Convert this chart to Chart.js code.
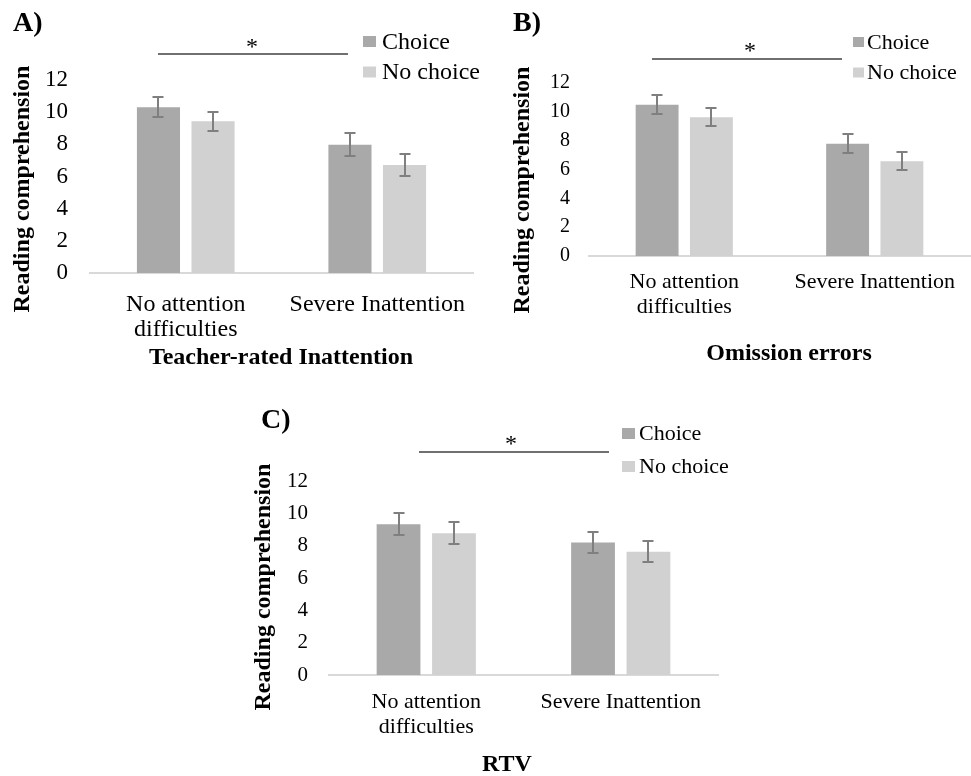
<!DOCTYPE html>
<html>
<head>
<meta charset="utf-8">
<script src="https://cdn.jsdelivr.net/npm/chart.js@4.4.1/dist/chart.umd.min.js"></script>
<style>
  body { margin: 0; background: #fff; }
  #wrap { position: relative; width: 971px; height: 776px; }
  canvas { position: absolute; }
</style>
</head>
<body>
<div id="wrap">
  <canvas id="chartA" width="490" height="380" style="left:0;top:0"></canvas>
  <canvas id="chartB" width="481" height="380" style="left:490px;top:0"></canvas>
  <canvas id="chartC" width="500" height="386" style="left:240px;top:390px"></canvas>
</div>
<script>
const FONT = "'Liberation Serif', 'Times New Roman', serif";

// shared across the three panels
const categories = [['No attention', 'difficulties'], 'Severe Inattention'];
const seriesNames = ['Choice', 'No choice'];
const seriesColors = ['#a9a9a9', '#d0d1d0'];
const yTickValues = [0, 2, 4, 6, 8, 10, 12];

// A) Teacher-rated Inattention
const choiceA = [10.3, 7.98];
const choiceErrA = [0.62, 0.7];
const noChoiceA = [9.43, 6.72];
const noChoiceErrA = [0.61, 0.66];

// B) Omission errors
const choiceB = [10.49, 7.78];
const choiceErrB = [0.65, 0.66];
const noChoiceB = [9.63, 6.58];
const noChoiceErrB = [0.63, 0.62];

// C) RTV
const choiceC = [9.33, 8.19];
const choiceErrC = [0.67, 0.67];
const noChoiceC = [8.77, 7.62];
const noChoiceErrC = [0.68, 0.65];

// error bars, legend, significance line, titles
const panelDecor = {
  id: 'panelDecor',
  afterDatasetsDraw(chart) {
    const ctx = chart.ctx;
    const y = chart.scales.y;
    ctx.save();
    ctx.strokeStyle = '#7f7f7f';
    ctx.lineWidth = 2;
    chart.data.datasets.forEach((ds, i) => {
      chart.getDatasetMeta(i).data.forEach((bar, j) => {
        const top = Math.round(y.getPixelForValue(ds.data[j] + ds.err[j]));
        const bot = Math.round(y.getPixelForValue(ds.data[j] - ds.err[j]));
        const x = Math.round(bar.x);
        ctx.beginPath();
        ctx.moveTo(x, top); ctx.lineTo(x, bot);
        ctx.moveTo(x - 5.5, top); ctx.lineTo(x + 5.5, top);
        ctx.moveTo(x - 5.5, bot); ctx.lineTo(x + 5.5, bot);
        ctx.stroke();
      });
    });
    ctx.restore();
  },
  afterDraw(chart, args, o) {
    const ctx = chart.ctx;
    ctx.save();
    ctx.fillStyle = '#000';
    ctx.textBaseline = 'middle';
    ctx.textAlign = 'left';
    ctx.font = `bold 28px ${FONT}`;
    ctx.fillText(o.letter, o.letterX, o.letterY);

    ctx.font = `${o.legendSize}px ${FONT}`;
    chart.data.datasets.forEach((ds, i) => {
      const cy = o.legendY[i];
      ctx.fillStyle = ds.backgroundColor;
      ctx.fillRect(o.legendX, cy - o.box[1] / 2, o.box[0], o.box[1]);
      ctx.fillStyle = '#000';
      ctx.fillText(ds.label, o.legendTextX, cy + 1);
    });

    ctx.strokeStyle = '#404040';
    ctx.lineWidth = 1.5;
    ctx.beginPath();
    ctx.moveTo(o.sig[0], o.sig[2]);
    ctx.lineTo(o.sig[1], o.sig[2]);
    ctx.stroke();
    ctx.textAlign = 'center';
    ctx.font = `24px ${FONT}`;
    ctx.fillText('*', o.star[0], o.star[1]);

    ctx.font = `bold 24px ${FONT}`;
    ctx.fillText(o.xTitle, o.xTitleX, o.xTitleY);
    ctx.translate(o.yTitleX, o.yTitleY);
    ctx.rotate(-Math.PI / 2);
    ctx.fillText('Reading comprehension', 0, 0);
    ctx.restore();
  }
};

function makePanel(id, choice, choiceErr, noChoice, noChoiceErr, p) {
  return new Chart(document.getElementById(id), {
    type: 'bar',
    data: {
      labels: categories,
      datasets: [
        { label: seriesNames[0], data: choice, err: choiceErr, backgroundColor: seriesColors[0] },
        { label: seriesNames[1], data: noChoice, err: noChoiceErr, backgroundColor: seriesColors[1] }
      ]
    },
    options: {
      responsive: false,
      animation: false,
      events: [],
      layout: { padding: p.padding },
      datasets: { bar: { categoryPercentage: 0.57, barPercentage: 0.79 } },
      plugins: {
        legend: { display: false },
        tooltip: { enabled: false },
        panelDecor: p.decor
      },
      scales: {
        x: {
          grid: { display: false, drawTicks: false },
          border: { color: '#d9d9d9', width: 2 },
          ticks: {
            color: '#000', padding: p.xTickPad, maxRotation: 0, autoSkip: false,
            font: { family: FONT, size: p.catSize, lineHeight: '25px' }
          },
          afterFit: s => { s.height = p.xHeight; }
        },
        y: {
          min: yTickValues[0],
          max: yTickValues[yTickValues.length - 1],
          grid: { display: false, drawTicks: false },
          border: { display: false },
          ticks: {
            stepSize: yTickValues[1] - yTickValues[0],
            color: '#000', padding: p.yTickPad,
            font: { family: FONT, size: p.tickSize }
          },
          afterFit: s => { s.width = p.yWidth; }
        }
      }
    },
    plugins: [panelDecor]
  });
}

makePanel('chartA', choiceA, choiceErrA, noChoiceA, noChoiceErrA, {
  padding: { top: 80, right: 17, left: 0, bottom: 0 },
  yWidth: 90, xHeight: 107, yTickPad: 22, xTickPad: 19.5, tickSize: 23, catSize: 24,
  decor: {
    letter: 'A)', letterX: 13, letterY: 24,
    legendX: 363, legendTextX: 382, legendY: [41.5, 72], legendSize: 24, box: [13, 11],
    sig: [158, 348, 54], star: [252, 48],
    xTitle: 'Teacher-rated Inattention', xTitleX: 281, xTitleY: 358,
    yTitleX: 22.5, yTitleY: 189
  }
});

makePanel('chartB', choiceB, choiceErrB, noChoiceB, noChoiceErrB, {
  padding: { top: 83, right: 1, left: 0, bottom: 0 },
  yWidth: 99, xHeight: 124, yTickPad: 19, xTickPad: 13.5, tickSize: 20, catSize: 22,
  decor: {
    letter: 'B)', letterX: 23, letterY: 24,
    legendX: 363, legendTextX: 377, legendY: [42, 72.5], legendSize: 22, box: [11, 10],
    sig: [162, 352, 59], star: [260, 52],
    xTitle: 'Omission errors', xTitleX: 299, xTitleY: 354,
    yTitleX: 32.5, yTitleY: 190
  }
});

makePanel('chartC', choiceC, choiceErrC, noChoiceC, noChoiceErrC, {
  padding: { top: 91, right: 22, left: 0, bottom: 0 },
  yWidth: 89, xHeight: 101, yTickPad: 21, xTickPad: 14.5, tickSize: 21, catSize: 22,
  decor: {
    letter: 'C)', letterX: 21, letterY: 31,
    legendX: 382, legendTextX: 399, legendY: [43.5, 76.5], legendSize: 22, box: [13, 11],
    sig: [179, 369, 62], star: [271, 55],
    xTitle: 'RTV', xTitleX: 267, xTitleY: 375,
    yTitleX: 24, yTitleY: 197
  }
});
</script>
</body>
</html>
